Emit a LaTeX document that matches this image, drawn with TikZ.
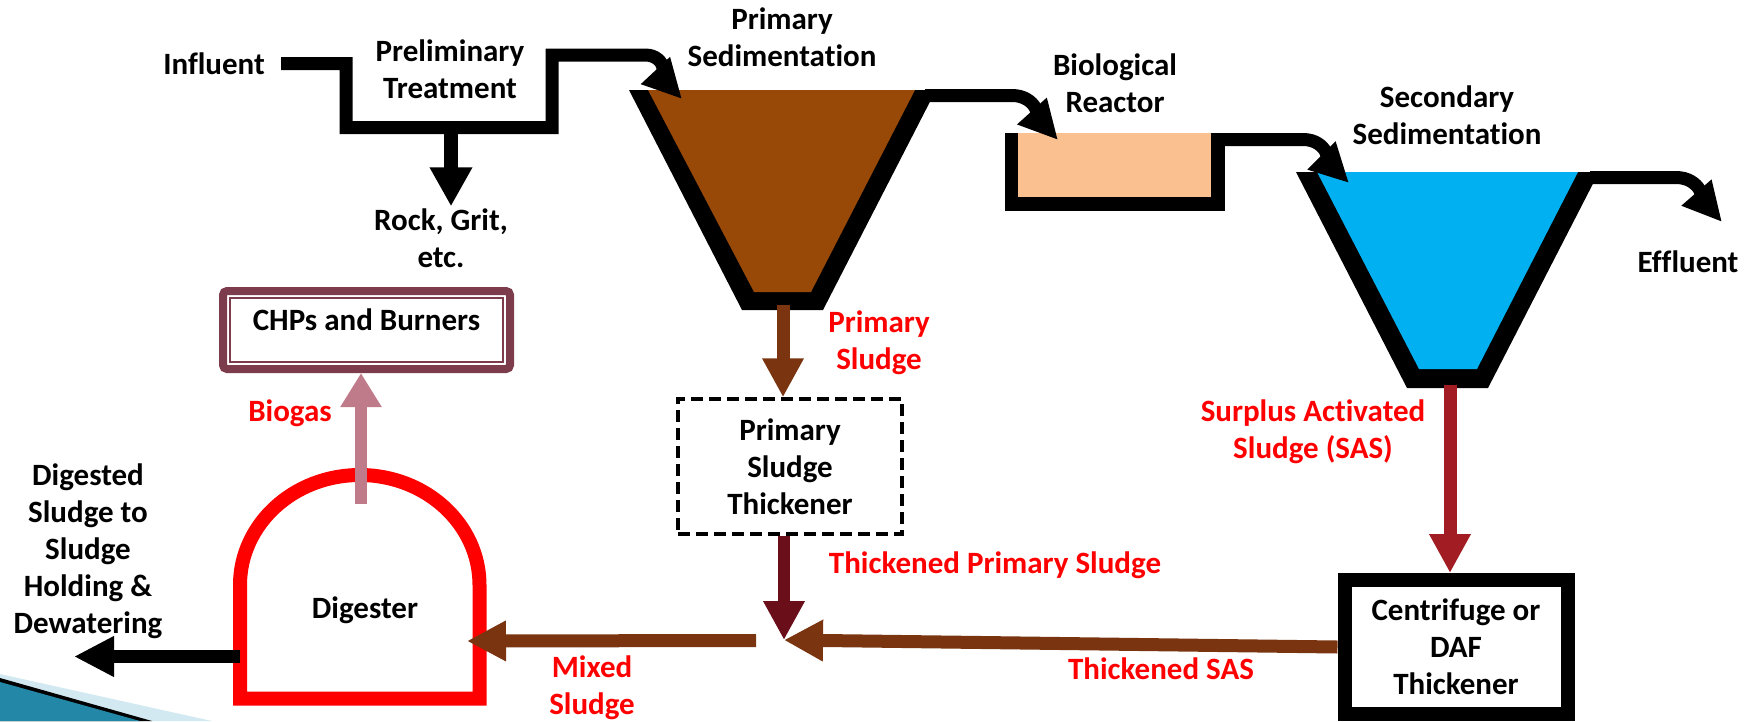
\documentclass[tikz,border=0pt]{standalone}
\usepackage{fontspec}
\setmainfont{Carlito}[Ligatures=NoCommon]
\usepackage{tikz}
\usetikzlibrary{arrows.meta,positioning,calc}

\definecolor{tankbrown}{HTML}{984807}
\definecolor{sludgebrown}{HTML}{7A3410}
\definecolor{reactorpeach}{HTML}{FAC090}
\definecolor{clearblue}{HTML}{00B0F0}
\definecolor{sasred}{HTML}{A11D23}
\definecolor{tpsred}{HTML}{6A0F19}
\definecolor{gaspink}{HTML}{C07B8B}
\definecolor{chpframe}{HTML}{7C3C4C}
\definecolor{slideteal}{HTML}{2387A8}
\definecolor{slidelight}{HTML}{D3E9F1}

\begin{document}
\begin{tikzpicture}[x=1pt, y=-1pt,
    lbl/.style={font=\bfseries\fontsize{31}{37}\selectfont, align=center, inner sep=2pt},
    redlbl/.style={lbl, text=red},
    pipe/.style={line width=13pt, -{Triangle[length=39pt,width=37pt]}},
    flow/.style={line width=13pt, -{Triangle[length=39pt,width=39pt]}}]
    \useasboundingbox (0,0) rectangle (1756,721);

    % slide corner
    \fill[slidelight] (0,674) -- (212,721) -- (0,721) -- cycle;
    \fill[black] (0,678) -- (152,721) -- (0,721) -- cycle;
    \fill[slideteal] (0,682) -- (140,721) -- (0,721) -- cycle;

    % tanks
    \fill[black] (629,90) -- (742,310) -- (823,310) -- (936,90) -- cycle;
    \fill[tankbrown] (648,90) -- (754,292) -- (811,292) -- (915,90) -- cycle;
    \fill[black] (1005,133) rectangle (1225,211);
    \fill[reactorpeach] (1018,133) rectangle (1211,197);
    \fill[black] (1296,172) -- (1407,388) -- (1488,388) -- (1599,172) -- cycle;
    \fill[clearblue] (1317,172) -- (1419,369) -- (1477,369) -- (1578,172) -- cycle;
    \draw[red, line width=14pt] (240,698.5) -- (240,585) arc[start angle=180, end angle=360, x radius=119.75, y radius=110] -- (479.5,698.5) -- cycle;

    \coordinate (inf-start) at (281,63.5);
    \coordinate (psed-in) at (682,99);
    \coordinate (psed-out) at (925,95.5);
    \coordinate (bio-in) at (1058,140);
    \coordinate (bio-out) at (1218,139.5);
    \coordinate (ssed-in) at (1349,183);
    \coordinate (ssed-out) at (1590,177.5);
    \coordinate (eff-end) at (1722,222);
    \coordinate (grit-src) at (451,127.5);
    \coordinate (prim-bot) at (783,305);
    \coordinate (sec-bot) at (1450,385);
    \coordinate (dig-top) at (361,504);
    \coordinate (dig-left) at (240,656.5);
    \coordinate (dig-right) at (467,641);
    \coordinate (dig-end) at (74,656.5);
    \coordinate (mix) at (784,640);
    \coordinate (mix-out) at (756,640.5);

    % labels
    \node[lbl] (influent) at (214,64) {Influent};
    \node[lbl] (prelim) at (450,69) {Preliminary\\Treatment};
    \node[lbl] (grit) at (441,238) {Rock, Grit,\\etc.};
    \node[lbl] (psed) at (782,37) {Primary\\Sedimentation};
    \node[lbl] (bio) at (1115,83) {Biological\\Reactor};
    \node[lbl] (ssed) at (1447,115) {Secondary\\Sedimentation};
    \node[lbl] (effluent) at (1688,262) {Effluent};
    \node[lbl] (digested) at (88,551) {Digested\\Sludge to\\Sludge\\Holding \&\\Dewatering};
    \node[lbl] (digester) at (365,610) {Digester};

    \node[lbl, draw=chpframe, line width=8pt, rounded corners=4pt, minimum width=287pt, minimum height=78pt, text height=20pt, text depth=20pt] (chp) at (366.5,330) {CHPs and Burners};
    \draw[chpframe, line width=1.5pt] ([shift={(11,11)}]chp.north west) rectangle ([shift={(-11,-11)}]chp.south east);
    \node[lbl, draw, line width=3.5pt, dash pattern=on 12pt off 6pt, minimum width=224pt, minimum height=135pt] (thk) at (790,466.5) {Primary\\Sludge\\Thickener};
    \node[lbl, draw, line width=14pt, minimum width=223pt, minimum height=134pt] (cent) at (1456,647) {Centrifuge or\\DAF\\Thickener};

    \node[redlbl] (biogas) at (290,413) {Biogas};
    \node[redlbl] (psl) at (879,343) {Primary\\Sludge};
    \node[redlbl] (tps) at (995,565) {Thickened Primary Sludge};
    \node[redlbl] (sas) at (1313,432) {Surplus Activated\\Sludge (SAS)};
    \node[redlbl] (tsas) at (1161,669) {Thickened SAS};
    \node[redlbl] (mixed) at (592,688) {Mixed\\Sludge};

    % pipes
    \draw[pipe] (inf-start) -- (346,63.5) -- (346,127.5) -- (552,127.5) -- (552,55) -- (645,55) to[out=0, in=133] (psed-in);
    \draw[pipe] (psed-out) -- (1012,95.5) to[out=0, in=132] (bio-in);
    \draw[pipe] (bio-out) -- (1303,139.5) to[out=0, in=135] (ssed-in);
    \draw[pipe] (ssed-out) -- (1676,177.5) to[out=0, in=131] (eff-end);

    % sludge lines
    \draw[flow, line width=14pt, -{Triangle[length=39pt,width=40pt]}] (grit-src) -- (grit-src |- grit.north);
    \draw[flow, sludgebrown] (prim-bot) -- (prim-bot |- thk.north);
    \draw[flow, tpsred, line width=12pt] (thk.south -| mix) -- (mix);
    \draw[flow, sasred] (sec-bot) -- (sec-bot |- cent.north);
    \draw[flow, sludgebrown] (cent.west) -- (mix);
    \draw[flow, sludgebrown, -{Triangle[length=39pt,width=38pt]}] (mix-out) -- (dig-right);
    \draw[flow, gaspink, line width=12pt, -{Triangle[length=34pt,width=39pt]}] (dig-top) -- (dig-top |- chp.south);
    \draw[flow, -{Triangle[length=40pt,width=38pt]}] (dig-left) -- (dig-end);
\end{tikzpicture}
\end{document}
